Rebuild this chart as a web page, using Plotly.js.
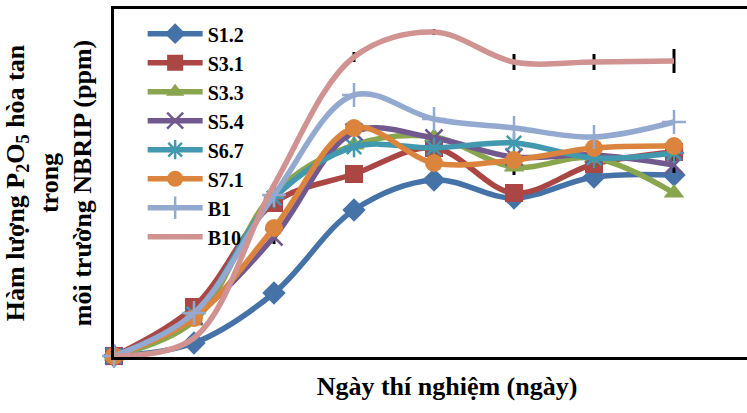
<!DOCTYPE html>
<html>
<head>
<meta charset="utf-8">
<script src="https://cdn.plot.ly/plotly-3.0.1.min.js"></script>
<style>
html,body{margin:0;padding:0;overflow:hidden;background:#fff;}
#chart{width:780px;height:413px;}
</style>
</head>
<body>
<div id="chart"></div>
<script>
// Sampling days (index positions along the x axis; no tick labels shown in the original)
const days = [0, 1, 2, 3, 4, 5, 6, 7];
const seriesNames = ["S1.2", "S3.1", "S3.3", "S5.4", "S6.7", "S7.1", "B1", "B10"];
// Dissolved P2O5 (relative units)
const S1_2 = [1, 14, 64, 147, 177, 159, 180, 182];
const S3_1 = [1, 50, 154, 183, 209, 164, 193, 205];
const S3_3 = [1, 36, 164, 212, 220, 190, 199, 164];
const S5_4 = [1, 41, 120, 225, 219, 200, 202, 192];
const S6_7 = [1, 43, 159, 210, 209, 214, 199, 204];
const S7_1 = [1, 39, 129, 229, 194, 197, 209, 211];
const B1   = [1, 44, 162, 262, 238, 229, 220, 235];
const B10  = [1, 19, 172, 300, 325, 295, 295, 296];
// error bars visible in the picture
const errS3_3 = [0, 0, 0, 0, 0, 8, 0, 0];
const errS5_4 = [0, 0, 7, 0, 0, 0, 0, 8];
const errB1   = [0, 0, 0, 10, 8, 0, 0, 7];
const errB10  = [0, 0, 0, 5, 3, 8, 8, 12];

const colors = ["#4572A7", "#AA4643", "#89A54E", "#71588F", "#4198AF", "#DB843D", "#93A9CF", "#D19392"];
const symbols = ["diamond", "square", "triangle-up", "x-thin-open", "asterisk-open", "circle", "cross-thin-open", null];
const values = [S1_2, S3_1, S3_3, S5_4, S6_7, S7_1, B1, B10];
const errs = [null, null, errS3_3, errS5_4, null, null, errB1, errB10];

const traces = values.map((v, i) => {
  const t = {
    x: days, y: v, name: seriesNames[i], type: "scatter",
    mode: symbols[i] ? "lines+markers" : "lines",
    line: {color: colors[i], width: 5.5, shape: "spline", smoothing: 1},
    cliponaxis: false
  };
  if (symbols[i]) {
    const open = symbols[i].indexOf("open") >= 0;
    t.marker = {symbol: symbols[i], size: open ? 17 : 18, color: colors[i],
      line: {color: colors[i], width: open ? 2.5 : 0}};
  }
  if (errs[i]) {
    t.error_y = {type: "data", array: errs[i], visible: true, color: i === 6 ? "#333" : "#000", thickness: i === 6 ? 1.5 : 3, width: 0};
  }
  return t;
});

const layout = {
  width: 780, height: 413,
  margin: {l: 114, r: 0, t: 9, b: 56},
  paper_bgcolor: "#fff", plot_bgcolor: "#fff",
  font: {family: "Liberation Serif, Times New Roman, serif", color: "#000"},
  showlegend: true,
  legend: {x: 0.043, y: 0.985, xanchor: "left", yanchor: "top", bgcolor: "rgba(0,0,0,0)", itemwidth: 55,
    font: {size: 20, family: "Liberation Serif", weight: "bold", color: "#000"}, tracegroupgap: 0},
  xaxis: {range: [0, 8.325], showticklabels: false, ticks: "", showgrid: false, zeroline: false,
    showline: true, linecolor: "#000", linewidth: 3, mirror: true,
    title: {text: "<b>Ngày thí nghiệm (ngày)</b>", font: {size: 26, family: "Liberation Serif"}, standoff: 18}},
  yaxis: {range: [0, 348], showticklabels: false, ticks: "", showgrid: false, zeroline: false,
    showline: true, linecolor: "#000", linewidth: 3, mirror: false,
    title: {text: "<b>Hàm lượng P<sub>2</sub>O<sub>5</sub> hòa tan<br>trong<br>môi trường NBRIP (ppm)</b>", font: {size: 26, family: "Liberation Serif"}, standoff: 12}}
};

Plotly.newPlot("chart", traces, layout, {displayModeBar: false, staticPlot: true});
</script>
</body>
</html>
